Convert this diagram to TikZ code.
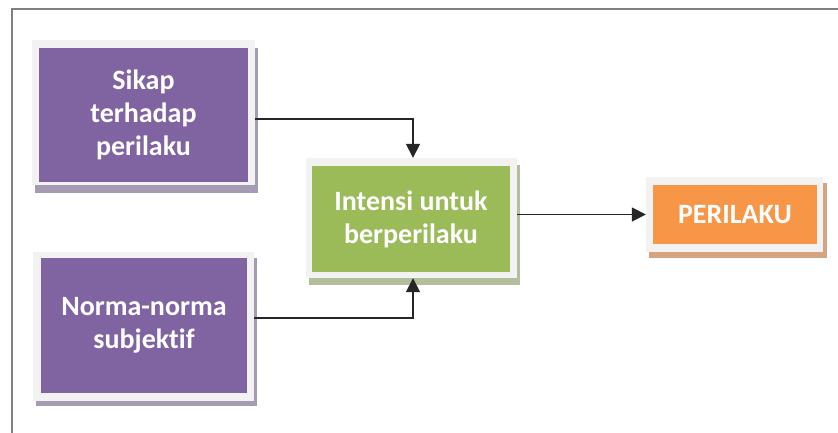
\documentclass[tikz,border=0pt]{standalone}
\usepackage{fontspec}
\setmainfont[Ligatures=NoCommon]{Carlito}
\usetikzlibrary{arrows.meta}
\definecolor{purp}{HTML}{8064A2}
\definecolor{purpsh}{HTML}{A59CB3}
\definecolor{grn}{HTML}{9BBB59}
\definecolor{grnsh}{HTML}{B3BE9C}
\definecolor{orng}{HTML}{F79646}
\definecolor{orngsh}{HTML}{D5A47F}
\definecolor{bord}{HTML}{F2F2F2}
\definecolor{frame}{HTML}{808080}
\definecolor{lineclr}{HTML}{262626}
\tikzset{
  bordbox/.style={fill=bord, draw=none, inner sep=0pt},
  innerbox/.style={draw=none, inner sep=0pt, text=white, align=center,
    font=\bfseries\fontsize{28}{33}\selectfont},
  conn/.style={draw=lineclr, line width=1.7pt, -{Triangle[length=14pt,width=14pt]}}
}
\begin{document}
\begin{tikzpicture}[x=1pt,y=-1pt]
\useasboundingbox (0,0) rectangle (838,432);
\fill[white] (0,0) rectangle (838,432);
\draw[frame, line width=2pt] (12,9) rectangle (860,460);
% Sikap
\fill[purpsh] (35,48) rectangle (258,193);
\node[bordbox, minimum width=223pt, minimum height=145pt] (sikapb) at (143.5,112.5) {};
\node[innerbox, fill=purp, minimum width=209pt, minimum height=134pt] (sikap) at (143.5,115) {Sikap\\terhadap\\perilaku};
% Norma
\fill[purpsh] (36,258) rectangle (257,406);
\node[bordbox, minimum width=221pt, minimum height=149pt] (normab) at (143.5,326.5) {};
\node[innerbox, fill=purp, minimum width=206pt, minimum height=135pt] (norma) at (144,325.5) {Norma-norma\\subjektif};
% Intensi
\fill[grnsh] (309,165) rectangle (520,285);
\node[bordbox, minimum width=211pt, minimum height=120pt] (intb) at (411.5,218) {};
\node[innerbox, fill=grn, minimum width=198pt, minimum height=106pt] (intensi) at (411,219) {Intensi untuk\\berperilaku};
% Perilaku
\fill[orngsh] (649,183) rectangle (827,258);
\node[bordbox, minimum width=177pt, minimum height=75pt] (perb) at (734.5,214.5) {};
\node[innerbox, fill=orng, minimum width=164pt, minimum height=59pt] (perilaku) at (735,214.5) {PERILAKU};
% connectors
\draw[conn] ([yshift=-6.5pt]sikapb.east) -| ([xshift=1.5pt]intb.north);
\draw[conn] ([yshift=8.5pt]normab.east) -| ([xshift=1.5pt]intb.south);
\draw[conn] (intb.east |- perb.west) -- (perb.west);
\end{tikzpicture}
\end{document}
